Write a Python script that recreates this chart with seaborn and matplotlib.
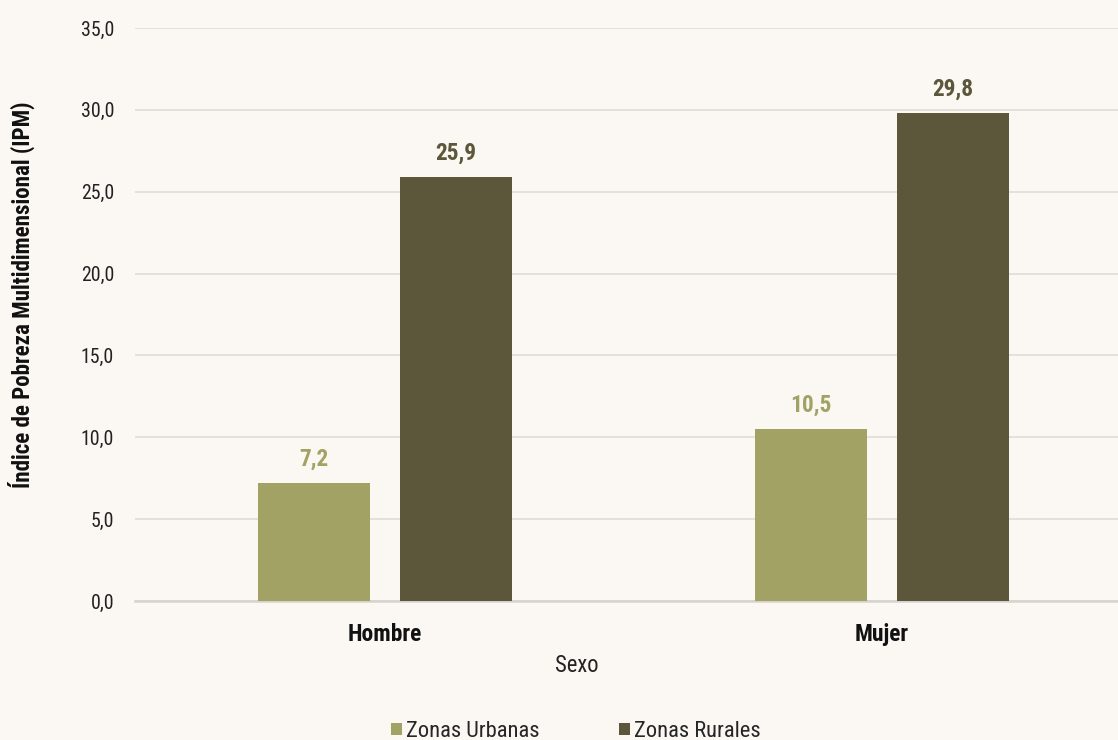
import matplotlib
matplotlib.use("Agg")
import matplotlib.pyplot as plt
import seaborn as sns
import pandas as pd
from matplotlib.patches import Patch

categories = ["Hombre", "Mujer"]
series = ["Zonas Urbanas", "Zonas Rurales"]
urbanas = [7.2, 10.5]
rurales = [25.9, 29.8]
yticks = [0, 5, 10, 15, 20, 25, 30, 35]

colors = {"Zonas Urbanas": "#A3A265", "Zonas Rurales": "#5C573A"}
bg = "#FBF8F3"

sns.set_theme(style="white")
plt.rcParams['font.family'] = ['Roboto Condensed', 'Roboto', 'DejaVu Sans']

df = pd.DataFrame({
    "Sexo": categories * 2,
    "Zona": [series[0]] * 2 + [series[1]] * 2,
    "IPM": urbanas + rurales,
})

fig = plt.figure(figsize=(11.18, 7.40), dpi=100, facecolor=bg)
ax = fig.add_axes([135 / 1118, (740 - 601) / 740, 1 - 135 / 1118, (601 - 28) / 740])
ax.set_facecolor(bg)

sns.barplot(data=df, x="Sexo", y="IPM", hue="Zona", hue_order=series,
            palette=colors, width=0.572, gap=0.213, ax=ax, legend=False,
            saturation=1, linewidth=0, edgecolor="none", zorder=3)

ax.set_xlim(-0.503, 1.475)
ax.set_ylim(0, 35)
ax.set_yticks(yticks)
ax.set_yticklabels([f"{v:.1f}".replace(".", ",") for v in yticks], fontsize=14.3, color="#222222")
ax.tick_params(axis="y", length=0, pad=15)
ax.tick_params(axis="x", length=0, pad=16)
for lab in ax.get_xticklabels():
    lab.set_fontweight("bold")
    lab.set_fontsize(16.9)
    lab.set_color("#111111")

ax.grid(axis="y", color="#E2DED8", linewidth=1.3, zorder=0)
ax.set_axisbelow(True)
for s in ["top", "right", "left"]:
    ax.spines[s].set_visible(False)
ax.spines["bottom"].set_color("#D6D3CE")
ax.spines["bottom"].set_linewidth(1.8)

ax.set_xlabel("Sexo", fontsize=16.3, color="#222222")
ax.xaxis.set_label_coords(0.449, -0.092)
ax.set_ylabel("Índice de Pobreza Multidimensional (IPM)", fontsize=16.6,
              fontweight="bold", color="#111111")
ax.yaxis.set_label_coords(-0.102, 0.535)

for cont, name in zip(ax.containers, series):
    labels = [f"{v:.1f}".replace(".", ",") for v in cont.datavalues]
    ax.bar_label(cont, labels=labels, padding=9, fontsize=16.8, fontweight="bold",
                 color=colors[name])

handles = [Patch(facecolor=colors[s], edgecolor="none", label=s) for s in series]
fig.legend(handles=handles, loc="lower center", bbox_to_anchor=(0.515, -0.03),
           ncol=2, frameon=False, fontsize=16.2, handlelength=0.5, handleheight=0.5,
           handletextpad=0.18, columnspacing=3.5)

fig.savefig("out.png", dpi=100, facecolor=bg)
